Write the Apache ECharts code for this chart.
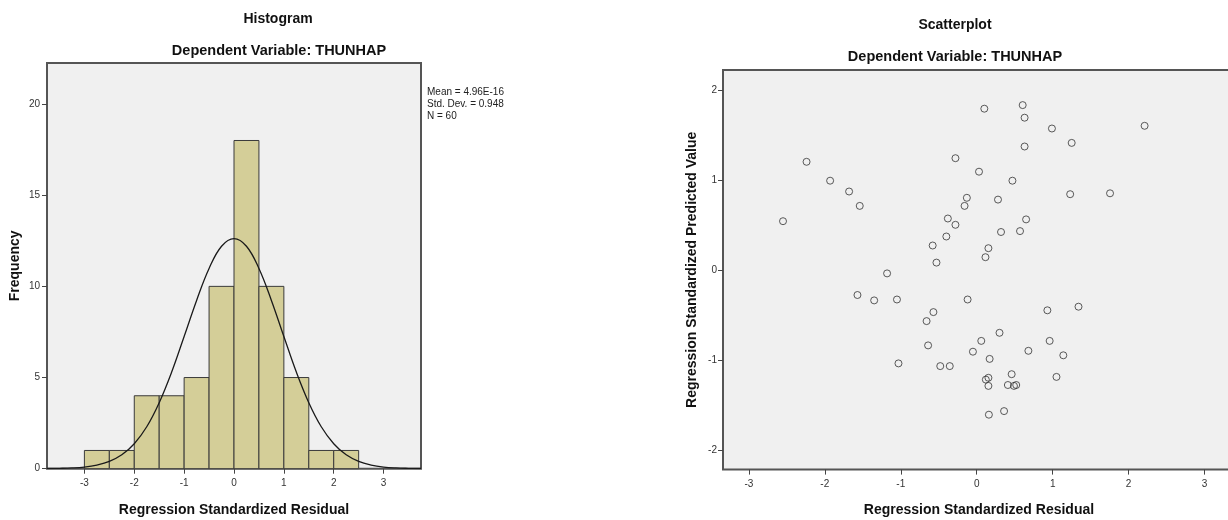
<!DOCTYPE html>
<html>
<head>
<meta charset="utf-8">
<script src="https://cdn.jsdelivr.net/npm/echarts@6/dist/echarts.min.js"></script>
<style>
  html, body { margin: 0; padding: 0; background: #fff; }
  #chart { width: 1228px; height: 520px; }
</style>
</head>
<body>
<div id="chart"></div>
<script>
// histogram bins (width 0.5) and counts
const binStart = [-3, -2.5, -2, -1.5, -1, -0.5, 0, 0.5, 1, 1.5, 2];
const binEnd = [-2.5, -2, -1.5, -1, -0.5, 0, 0.5, 1, 1.5, 2, 2.5];
const binCount = [1, 1, 4, 4, 5, 10, 18, 10, 5, 1, 1];

// normal curve
const curveX = [-3.75, -3.5, -3.25, -3, -2.75, -2.5, -2.25, -2, -1.75, -1.5, -1.25, -1, -0.75, -0.5, -0.25, 0,
    0.25, 0.5, 0.75, 1, 1.25, 1.5, 1.75, 2, 2.25, 2.5, 2.75, 3, 3.25, 3.5, 3.75];
const curveY = [0.01, 0.02, 0.04, 0.09, 0.2, 0.4, 0.76, 1.37, 2.3, 3.62, 5.3, 7.25, 9.23, 10.98, 12.2, 12.62,
    12.2, 10.98, 9.23, 7.25, 5.3, 3.62, 2.3, 1.37, 0.76, 0.4, 0.2, 0.09, 0.04, 0.02, 0.01];

const statsLines = ['Mean = 4.96E-16', 'Std. Dev. = 0.948', 'N = 60'];

// scatterplot: standardized residual vs standardized predicted value
const residual = [-2.55, -2.24, -1.93, -1.68, -1.54, -0.58, -0.53, -1.18, 0.10, 0.605,
    0.63, 0.99, 2.21, 1.25, 0.63, -0.28, 0.03, 0.47, 1.23, 1.755,
    -0.13, -0.16, 0.28, -0.38, -0.28, 0.65, 0.32, 0.57, -0.40, 0.154,
    0.115, -1.57, -1.35, -1.05, -0.57, -0.66, -0.64, -1.03, -0.12, 0.93,
    1.34, 0.30, 0.06, 0.96, -0.05, 0.68, 1.14, 0.17, -0.48, -0.355,
    0.46, 0.154, 0.12, 1.05, 0.154, 0.41, 0.49, 0.52, 0.16, 0.36];
const predicted = [0.54, 1.20, 0.99, 0.87, 0.71, 0.27, 0.08, -0.04, 1.79, 1.83,
    1.69, 1.57, 1.60, 1.41, 1.37, 1.24, 1.09, 0.99, 0.84, 0.85,
    0.80, 0.71, 0.78, 0.57, 0.50, 0.56, 0.42, 0.43, 0.37, 0.24,
    0.14, -0.28, -0.34, -0.33, -0.47, -0.57, -0.84, -1.04, -0.33, -0.45,
    -0.41, -0.70, -0.79, -0.79, -0.91, -0.90, -0.95, -0.99, -1.07, -1.07,
    -1.16, -1.20, -1.22, -1.19, -1.29, -1.28, -1.29, -1.28, -1.61, -1.57];

const histTicksX = [-3, -2, -1, 0, 1, 2, 3];
const histTicksY = [0, 5, 10, 15, 20];
const scatTicksX = [-3, -2, -1, 0, 1, 2, 3];
const scatTicksY = [-2, -1, 0, 1, 2];

const FONT = '"Liberation Sans", Arial, sans-serif';

function valueAxis(gridIndex, min, max, ticks, extra) {
    return Object.assign({
        type: 'value',
        gridIndex: gridIndex,
        min: min,
        max: max,
        axisLine: { show: false, onZero: false },
        splitLine: { show: false },
        axisTick: { show: true, inside: false, length: 5, customValues: ticks, lineStyle: { color: '#444', width: 1 } },
        nameLocation: 'middle',
        nameTextStyle: { fontSize: 14, fontWeight: 'bold', color: '#111', fontFamily: FONT }
    }, extra);
}

function tickLabels(ticks, margin) {
    return { customValues: ticks, color: '#333', fontSize: 10, fontFamily: FONT, margin: margin };
}

function titleText(text, x, y, size, weight) {
    return {
        text: text, left: x, top: y, textAlign: 'center', padding: 0,
        textStyle: { fontSize: size, fontWeight: weight, color: '#111', fontFamily: FONT }
    };
}

const chart = echarts.init(document.getElementById('chart'));

const option = {
    animation: false,
    title: [
        titleText('Histogram', 278, 12, 14, 'bold'),
        titleText('Dependent Variable: THUNHAP', 279, 43, 14.5, 'bold'),
        titleText('Scatterplot', 955, 18, 14, 'bold'),
        titleText('Dependent Variable: THUNHAP', 955, 49, 14.5, 'bold')
    ],
    graphic: [{
        type: 'text',
        left: 427,
        top: 86,
        style: {
            text: statsLines.join('\n'),
            fontSize: 10,
            lineHeight: 12,
            fill: '#222',
            fontFamily: FONT
        }
    }],
    grid: [
        { left: 47, top: 63, width: 374, height: 405.7, show: true, outerBoundsMode: 'none',
          backgroundColor: '#f0f0f0', borderColor: '#555', borderWidth: 2 },
        { left: 723, top: 70, width: 512, height: 399.6, show: true, outerBoundsMode: 'none',
          backgroundColor: '#f0f0f0', borderColor: '#555', borderWidth: 2 }
    ],
    xAxis: [
        valueAxis(0, -3.75, 3.75, histTicksX, { name: 'Regression Standardized Residual', nameGap: 34,
            axisLabel: tickLabels(histTicksX, 10) }),
        valueAxis(1, -3.34, 3.40, scatTicksX, { name: 'Regression Standardized Residual', nameGap: 34,
            axisLabel: tickLabels(scatTicksX, 10) })
    ],
    yAxis: [
        valueAxis(0, 0, 22.25, histTicksY, { name: 'Frequency', nameGap: 25,
            axisLabel: tickLabels(histTicksY, 7) }),
        valueAxis(1, -2.22, 2.22, scatTicksY, { name: 'Regression Standardized Predicted Value', nameGap: 24,
            axisLabel: tickLabels(scatTicksY, 6) })
    ],
    series: [
        {
            type: 'custom',
            xAxisIndex: 0,
            yAxisIndex: 0,
            data: binCount.map((c, i) => [binStart[i], binEnd[i], c]),
            renderItem: function (params, api) {
                const p0 = api.coord([api.value(0), 0]);
                const p1 = api.coord([api.value(1), api.value(2)]);
                return {
                    type: 'rect',
                    shape: { x: p0[0], y: p1[1], width: p1[0] - p0[0], height: p0[1] - p1[1] },
                    style: { fill: '#d4ce98', stroke: '#3a3a3a', lineWidth: 1 }
                };
            },
            z: 2
        },
        {
            type: 'line',
            xAxisIndex: 0,
            yAxisIndex: 0,
            data: curveX.map((x, i) => [x, curveY[i]]),
            smooth: 0.4,
            symbol: 'none',
            lineStyle: { color: '#1a1a1a', width: 1.3 },
            z: 3
        },
        {
            type: 'scatter',
            xAxisIndex: 1,
            yAxisIndex: 1,
            data: residual.map((x, i) => [x, predicted[i]]),
            symbol: 'circle',
            symbolSize: 7,
            itemStyle: { color: 'rgba(0,0,0,0)', borderColor: '#333', borderWidth: 1 },
            z: 3
        }
    ]
};

chart.setOption(option);
window.addEventListener('resize', () => chart.resize());
</script>
</body>
</html>
